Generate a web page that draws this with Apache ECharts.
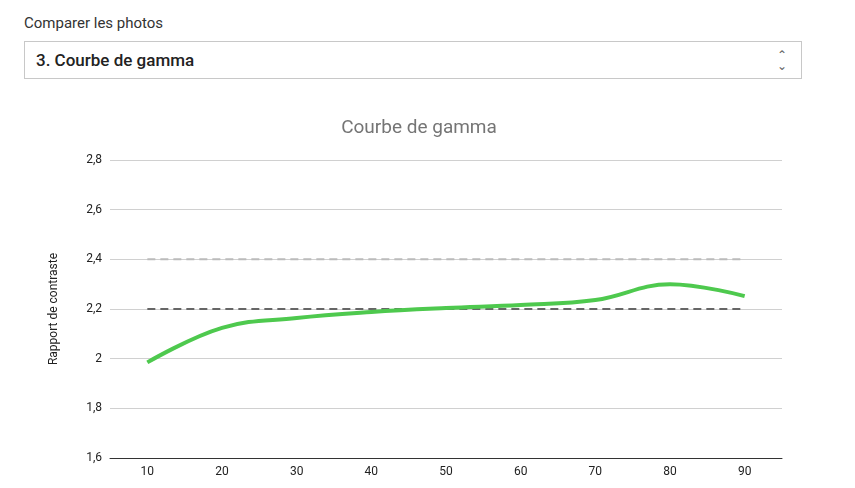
<!DOCTYPE html>
<html><head><meta charset="utf-8">
<script src="https://cdn.jsdelivr.net/npm/echarts@6/dist/echarts.min.js"></script>
<style>
body{margin:0;background:#fff;font-family:Roboto,sans-serif;}
#lbl{position:absolute;left:24px;top:14px;font-size:15px;color:#333;}
#sel{position:absolute;left:24px;top:41px;width:778px;height:38px;border:1px solid #c8c8c8;box-sizing:border-box;font-size:17px;font-weight:500;color:#222;line-height:37px;padding-left:11px;}
#sel span{position:absolute;right:14px;top:0;color:#666;font-size:12px;line-height:11px;padding-top:8px;text-align:center;}
#gamma{position:absolute;left:0;top:100px;width:855px;height:388px;}
</style></head><body>
<div id="lbl">Comparer les photos</div>
<div id="sel">3. Courbe de gamma<span>&#8963;<br>&#8964;</span></div>
<div id="gamma"></div>
<script>
var angles = ['10','20','30','40','50','60','70','80','90'];
var gamma = [1.985, 2.124, 2.164, 2.188, 2.204, 2.216, 2.236, 2.30, 2.252];
var refHigh = [2.4, 2.4, 2.4, 2.4, 2.4, 2.4, 2.4, 2.4, 2.4];
var refLow = [2.2, 2.2, 2.2, 2.2, 2.2, 2.2, 2.2, 2.2, 2.2];

var myChart = echarts.init(document.getElementById('gamma'));
var option = {
    animation: false,
    title: {
        text: 'Courbe de gamma',
        left: 414, top: 14, textAlign: 'center',
        textStyle: {color: '#757575', fontSize: 19, fontWeight: 'normal', fontFamily: 'Roboto'}
    },
    grid: {left: 110, right: 73, top: 60, bottom: 30},
    xAxis: {
        type: 'category', data: angles, boundaryGap: true,
        axisLine: {lineStyle: {color: '#333'}},
        axisTick: {show: false},
        axisLabel: {color: '#222', fontSize: 12, fontFamily: 'Roboto'}
    },
    yAxis: {
        type: 'value', min: 1.6, max: 2.8, interval: 0.2,
        name: 'Rapport de contraste', nameLocation: 'middle', nameGap: 50,
        nameTextStyle: {color: '#222', fontSize: 12, fontFamily: 'Roboto'},
        axisLabel: {color: '#222', fontSize: 12, fontFamily: 'Roboto',
            formatter: function (v) { return (Math.round(v * 10) / 10).toString().replace('.', ','); }},
        splitLine: {lineStyle: {color: '#d0d0d0'}}
    },
    series: [
        {type: 'line', data: refHigh, symbol: 'none', lineStyle: {color: '#bbb', width: 2, type: [8, 5]}},
        {type: 'line', data: refLow, symbol: 'none', lineStyle: {color: '#666', width: 2, type: [8, 5]}},
        {type: 'line', data: gamma, symbol: 'none', smooth: 0.4, lineStyle: {color: '#4ec94e', width: 4}}
    ]
};
myChart.setOption(option);
</script></body></html>
